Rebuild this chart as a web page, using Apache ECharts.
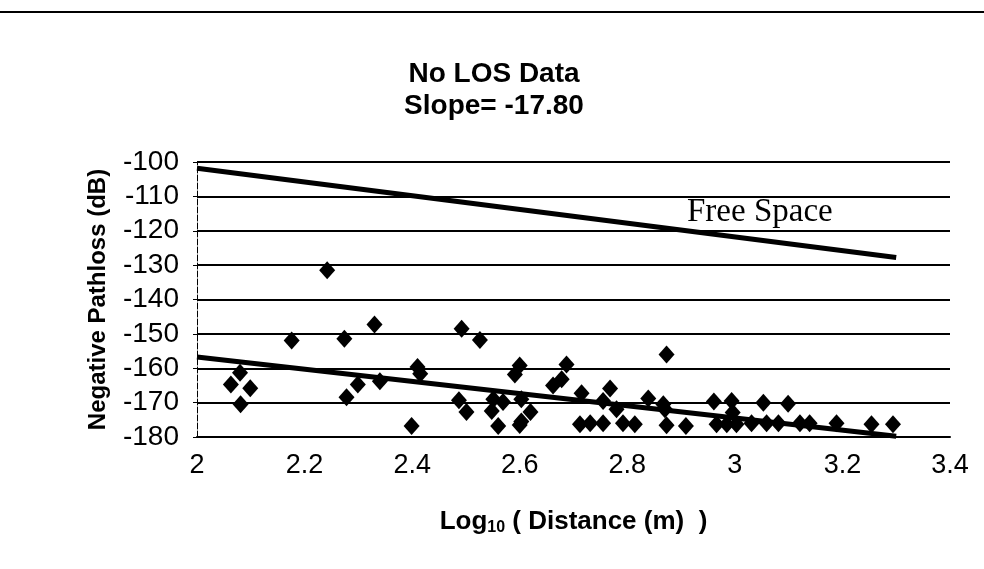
<!DOCTYPE html>
<html>
<head>
<meta charset="utf-8">
<script src="https://cdn.jsdelivr.net/npm/echarts@6/dist/echarts.min.js"></script>
<style>
html,body{margin:0;padding:0;background:#fff;}
#chart{width:984px;height:569px;}
</style>
</head>
<body>
<div id="chart"></div>
<script>
// Measured points: log10(distance), negative pathloss (dB)
const logDist = [
  2.063, 2.080, 2.081, 2.099, 2.176, 2.242, 2.274, 2.278, 2.299, 2.330, 2.340,
  2.399, 2.410, 2.415, 2.487, 2.492, 2.501, 2.526, 2.548, 2.551, 2.560, 2.569,
  2.591, 2.600, 2.600, 2.603, 2.603, 2.620, 2.662, 2.678, 2.687, 2.712, 2.715,
  2.731, 2.755, 2.755, 2.768, 2.780, 2.792, 2.814, 2.839, 2.867, 2.870, 2.873,
  2.873, 2.909, 2.961, 2.966, 2.985, 2.994, 2.996, 3.003, 3.031, 3.053, 3.059,
  3.081, 3.099, 3.121, 3.139, 3.189, 3.254, 3.294
];
const pathLoss = [
  -164.7, -161.3, -170.5, -165.8, -151.9, -131.5, -151.4, -168.4, -164.7, -147.3, -163.8,
  -176.8, -159.6, -161.6, -169.3, -148.5, -172.7, -151.8, -172.4, -169.0, -176.8, -169.8,
  -161.8, -159.2, -176.5, -169.0, -175.5, -172.7, -165.0, -163.2, -158.9, -176.3, -167.3,
  -176.0, -169.5, -176.0, -165.9, -171.9, -176.0, -176.3, -168.8, -170.5, -171.9, -156.0,
  -176.6, -176.8, -169.7, -176.3, -176.3, -169.5, -172.9, -176.3, -176.0, -170.0, -176.0,
  -176.0, -170.3, -176.0, -176.0, -176.0, -176.3, -176.3
];
// Free space reference line
const freeSpaceX = [2, 3.3];
const freeSpaceY = [-101.8, -127.8];
// Regression fit line (slope -17.80)
const fitX = [2, 3.3];
const fitY = [-156.7, -179.8];
// Text
const titleLines = ['No LOS Data', 'Slope= -17.80'];
const xTitle = '{b|Log}{s|10}{b| ( Distance (m)  )}';
const yTitle = 'Negative Pathloss (dB)';
const freeSpaceLabel = 'Free Space';

const zip = (a, b) => a.map((v, i) => [v, b[i]]);
const SANS = '"Liberation Sans", Arial, sans-serif';

const chart = echarts.init(document.getElementById('chart'), null, {renderer: 'canvas'});
chart.setOption({
  backgroundColor: '#ffffff',
  animation: false,
  title: {
    text: titleLines.join('\n'),
    left: 489,
    textAlign: 'center',
    top: 53,
    textStyle: {
      fontFamily: SANS,
      fontWeight: 'bold',
      fontSize: 28,
      lineHeight: 32,
      color: '#000'
    }
  },
  grid: {left: 197, right: 34, top: 162, bottom: 132, containLabel: false},
  xAxis: {
    type: 'value',
    min: 2, max: 3.4, interval: 0.2,
    name: xTitle,
    nameLocation: 'middle',
    nameGap: 71,
    nameTextStyle: {
      rich: {
        b: {fontFamily: SANS, fontWeight: 'bold', fontSize: 26, color: '#000'},
        s: {fontFamily: SANS, fontWeight: 'bold', fontSize: 16, color: '#000', padding: [12, 0, 0, 0]}
      }
    },
    axisLine: {show: true, lineStyle: {color: '#000', width: 2}},
    axisTick: {show: false},
    axisLabel: {
      color: '#000', fontSize: 27, margin: 15,
      fontFamily: SANS,
      formatter: v => String(Math.round(v * 10) / 10)
    },
    splitLine: {show: false}
  },
  yAxis: {
    type: 'value',
    min: -180, max: -100, interval: 10,
    name: yTitle,
    nameLocation: 'middle',
    nameGap: 87,
    nameTextStyle: {fontFamily: SANS, fontWeight: 'bold', fontSize: 24, color: '#000'},
    axisLine: {show: true, onZero: false, lineStyle: {color: '#000', width: 1, type: [6, 2]}},
    axisTick: {show: true, inside: false, length: 4, lineStyle: {color: '#000', width: 1}},
    axisLabel: {color: '#000', fontSize: 28, margin: 18, fontFamily: SANS},
    splitLine: {show: true, lineStyle: {color: '#000', width: 2}}
  },
  series: [
    {
      type: 'line',
      data: zip(freeSpaceX, freeSpaceY),
      symbol: 'none',
      lineStyle: {color: '#000', width: 5},
      z: 3
    },
    {
      type: 'line',
      data: zip(fitX, fitY),
      symbol: 'none',
      lineStyle: {color: '#000', width: 5},
      z: 3
    },
    {
      type: 'scatter',
      data: zip(logDist, pathLoss),
      symbol: 'diamond',
      symbolSize: [16, 18],
      itemStyle: {color: '#000', opacity: 1},
      z: 4
    }
  ],
  graphic: [
    {type: 'line', shape: {x1: 0, y1: 12, x2: 984, y2: 12}, style: {stroke: '#000', lineWidth: 2}},
    {type: 'text', left: 687, top: 196, style: {text: freeSpaceLabel, font: '33px "Liberation Serif", "Times New Roman", serif', fill: '#000'}}
  ]
});
</script>
</body>
</html>
